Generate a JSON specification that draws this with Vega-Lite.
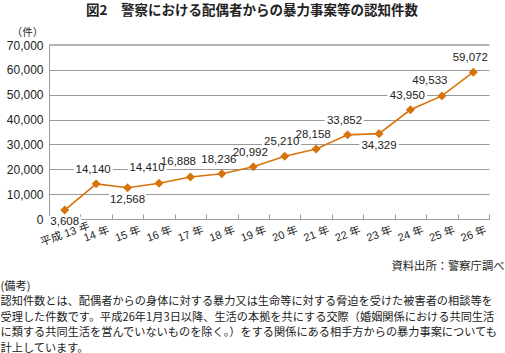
{
  "$schema": "https://vega.github.io/schema/vega-lite/v6.json",
  "width": 440,
  "height": 174,
  "autosize": {"type": "none"},
  "padding": {"left": 49, "top": 45, "right": 16, "bottom": 134},
  "background": "white",
  "title": {
    "text": "図2　警察における配偶者からの暴力事案等の認知件数",
    "font": "Noto Sans CJK JP",
    "fontSize": 13.5,
    "fontWeight": "bold",
    "color": "#222222",
    "anchor": "middle",
    "frame": "bounds",
    "offset": 10
  },
  "data": {
    "values": [
      {"year": "平成 13 年", "count": 3608},
      {"year": "14 年", "count": 14140},
      {"year": "15 年", "count": 12568},
      {"year": "16 年", "count": 14410},
      {"year": "17 年", "count": 16888},
      {"year": "18 年", "count": 18236},
      {"year": "19 年", "count": 20992},
      {"year": "20 年", "count": 25210},
      {"year": "21 年", "count": 28158},
      {"year": "22 年", "count": 33852},
      {"year": "23 年", "count": 34329},
      {"year": "24 年", "count": 43950},
      {"year": "25 年", "count": 49533},
      {"year": "26 年", "count": 59072}
    ]
  },
  "encoding": {
    "y": {"field": "count", "type": "quantitative", "scale": {"domain": [0, 70000], "nice": false},
      "axis": {"values": [0, 10000, 20000, 30000, 40000, 50000, 60000, 70000], "format": ",.0f",
        "labelFont": "Liberation Sans", "labelFontSize": 12, "labelColor": "#222222", "labelPadding": 6,
        "ticks": false, "domainColor": "#999999", "grid": true, "gridColor": "#999999", "gridWidth": 1,
        "title": "（件）", "titleAngle": 0, "titleX": -22, "titleY": -13, "titleAlign": "center", "titleBaseline": "middle",
        "titleFont": "Noto Sans CJK JP", "titleFontSize": 10.5, "titleFontWeight": "normal", "titleColor": "#222222"}}
  },
  "layer": [
    {
      "mark": {"type": "rule", "color": "#b3b3b3", "strokeWidth": 2},
      "encoding": {"y": {"datum": 70000}}
    },
    {
      "transform": [{"filter": "indexof(['平成 13 年','15 年','23 年','16 年','17 年','25 年'], datum.year) < 0"}],
      "mark": {"type": "text", "font": "Liberation Sans", "fontSize": 11.5, "fill": "white", "stroke": "white", "strokeWidth": 5, "dx": -3, "dy": -14},
      "encoding": {
        "x": {"field": "year", "type": "ordinal", "sort": ["平成 13 年", "14 年", "15 年", "16 年", "17 年", "18 年", "19 年", "20 年", "21 年", "22 年", "23 年", "24 年", "25 年", "26 年"], "scale": {"type": "band", "paddingInner": 0, "paddingOuter": 0},
          "axis": {"orient": "top", "labels": false, "ticks": false, "domain": false, "grid": false,
            "title": ["(備考)", "認知件数とは、配偶者からの身体に対する暴力又は生命等に対する脅迫を受けた被害者の相談等を", "受理した件数です。平成26年1月3日以降、生活の本拠を共にする交際（婚姻関係における共同生活", "に類する共同生活を営んでいないものを除く。）をする関係にある相手方からの暴力事案についても", "計上しています。"],
            "titleFont": "Noto Sans CJK JP", "titleFontSize": 11.2, "titleFontWeight": "normal", "titleColor": "#222222",
            "titleLineHeight": 15.5, "titleX": -49, "titleY": 241, "titleAlign": "left", "titleAnchor": "start", "titleBaseline": "middle"}},
        "text": {"field": "count", "type": "quantitative", "format": ","}
      }
    },
    {
      "transform": [{"filter": "indexof(['16 年','17 年','25 年'], datum.year) >= 0"}],
      "mark": {"type": "text", "font": "Liberation Sans", "fontSize": 11.5, "fill": "white", "stroke": "white", "strokeWidth": 5, "dx": -12, "dy": -15},
      "encoding": {
        "x": {"field": "year", "type": "ordinal", "sort": ["平成 13 年", "14 年", "15 年", "16 年", "17 年", "18 年", "19 年", "20 年", "21 年", "22 年", "23 年", "24 年", "25 年", "26 年"], "scale": {"type": "band", "paddingInner": 0, "paddingOuter": 0}, "axis": null},
        "text": {"field": "count", "type": "quantitative", "format": ","}
      }
    },
    {
      "transform": [{"filter": "indexof(['平成 13 年','15 年','23 年'], datum.year) >= 0"}],
      "mark": {"type": "text", "font": "Liberation Sans", "fontSize": 11.5, "fill": "white", "stroke": "white", "strokeWidth": 5, "dx": 0, "dy": 12},
      "encoding": {
        "x": {"field": "year", "type": "ordinal", "sort": ["平成 13 年", "14 年", "15 年", "16 年", "17 年", "18 年", "19 年", "20 年", "21 年", "22 年", "23 年", "24 年", "25 年", "26 年"], "scale": {"type": "band", "paddingInner": 0, "paddingOuter": 0}, "axis": null},
        "text": {"field": "count", "type": "quantitative", "format": ","}
      }
    },
    {
      "mark": {"type": "line", "color": "#d8730c", "strokeWidth": 1.6},
      "encoding": {
        "x": {"field": "year", "type": "ordinal", "sort": ["平成 13 年", "14 年", "15 年", "16 年", "17 年", "18 年", "19 年", "20 年", "21 年", "22 年", "23 年", "24 年", "25 年", "26 年"], "scale": {"type": "band", "paddingInner": 0, "paddingOuter": 0},
          "axis": {"orient": "bottom", "labelAngle": -20, "labelAlign": "center", "labelBaseline": "middle", "labelPadding": 20,
            "labelFont": "'Liberation Sans', 'Noto Sans CJK JP'", "labelFontSize": 11, "labelColor": "#222222", "labelOverlap": false,
            "tickBand": "extent", "tickSize": -5, "tickColor": "#999999", "domainColor": "#999999", "grid": false,
            "title": "資料出所：警察庁調べ", "titleFont": "Noto Sans CJK JP", "titleFontSize": 11.3, "titleFontWeight": "normal", "titleColor": "#222222",
            "titleX": 455, "titleY": 47.7, "titleAlign": "right", "titleAnchor": "end", "titleBaseline": "middle"}}
      }
    },
    {
      "mark": {"type": "point", "shape": "diamond", "filled": true, "size": 80, "color": "#d8730c", "opacity": 1},
      "encoding": {
        "x": {"field": "year", "type": "ordinal", "sort": ["平成 13 年", "14 年", "15 年", "16 年", "17 年", "18 年", "19 年", "20 年", "21 年", "22 年", "23 年", "24 年", "25 年", "26 年"], "scale": {"type": "band", "paddingInner": 0, "paddingOuter": 0}, "axis": null}
      }
    },
    {
      "transform": [{"filter": "indexof(['平成 13 年','15 年','23 年','16 年','17 年','25 年'], datum.year) < 0"}],
      "mark": {"type": "text", "font": "Liberation Sans", "fontSize": 11.5, "color": "#222222", "dx": -3, "dy": -14},
      "encoding": {
        "x": {"field": "year", "type": "ordinal", "sort": ["平成 13 年", "14 年", "15 年", "16 年", "17 年", "18 年", "19 年", "20 年", "21 年", "22 年", "23 年", "24 年", "25 年", "26 年"], "scale": {"type": "band", "paddingInner": 0, "paddingOuter": 0}, "axis": null},
        "text": {"field": "count", "type": "quantitative", "format": ","}
      }
    },
    {
      "transform": [{"filter": "indexof(['16 年','17 年','25 年'], datum.year) >= 0"}],
      "mark": {"type": "text", "font": "Liberation Sans", "fontSize": 11.5, "color": "#222222", "dx": -12, "dy": -15},
      "encoding": {
        "x": {"field": "year", "type": "ordinal", "sort": ["平成 13 年", "14 年", "15 年", "16 年", "17 年", "18 年", "19 年", "20 年", "21 年", "22 年", "23 年", "24 年", "25 年", "26 年"], "scale": {"type": "band", "paddingInner": 0, "paddingOuter": 0}, "axis": null},
        "text": {"field": "count", "type": "quantitative", "format": ","}
      }
    },
    {
      "transform": [{"filter": "indexof(['平成 13 年','15 年','23 年'], datum.year) >= 0"}],
      "mark": {"type": "text", "font": "Liberation Sans", "fontSize": 11.5, "color": "#222222", "dx": 0, "dy": 12},
      "encoding": {
        "x": {"field": "year", "type": "ordinal", "sort": ["平成 13 年", "14 年", "15 年", "16 年", "17 年", "18 年", "19 年", "20 年", "21 年", "22 年", "23 年", "24 年", "25 年", "26 年"], "scale": {"type": "band", "paddingInner": 0, "paddingOuter": 0}, "axis": null},
        "text": {"field": "count", "type": "quantitative", "format": ","}
      }
    }
  ],
  "resolve": {"axis": {"x": "independent"}},
  "config": {"view": {"stroke": null}}
}
